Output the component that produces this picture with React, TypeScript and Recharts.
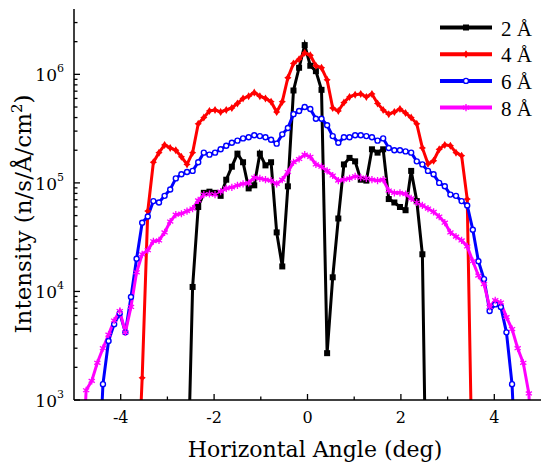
import React from "react";
import { LineChart, Line, XAxis, YAxis } from "recharts";

// horizontal angle (deg), ~0.12 deg steps
const angles = [
  -4.86, -4.74, -4.62, -4.5, -4.38, -4.26, -4.14, -4.02, -3.9, -3.78, -3.66, -3.54, -3.42, -3.3,
  -3.18, -3.06, -2.94, -2.82, -2.7, -2.58, -2.46, -2.34, -2.22, -2.1, -1.98, -1.86, -1.74, -1.62,
  -1.5, -1.38, -1.26, -1.14, -1.02, -0.9, -0.78, -0.66, -0.54, -0.42, -0.3, -0.18, -0.06, 0.06,
  0.18, 0.3, 0.42, 0.54, 0.66, 0.78, 0.9, 1.02, 1.14, 1.26, 1.38, 1.5, 1.62, 1.74, 1.86, 1.98,
  2.1, 2.22, 2.34, 2.46, 2.58, 2.7, 2.82, 2.94, 3.06, 3.18, 3.3, 3.42, 3.54, 3.66, 3.78, 3.9,
  4.02, 4.14, 4.26, 4.38, 4.5, 4.62, 4.74, 4.86,
];

const n = null;

// 2 Å
const w2 = [
  n, n, n, n, n, n, n, n, n, n, n, n, n, n,
  n, n, n, n, n, 100, 1.1e4, 6.0e4, 8.1e4, 8.3e4, 8.1e4, 7.6e4, 1.07e5, 1.41e5,
  1.86e5, 1.55e5, 8.9e4, 9.5e4, 1.86e5, 1.45e5, 1.55e5, 3.5e4, 1.7e4, 9.3e4, 7.1e5, 1.15e6, 1.86e6, 1.2e6,
  1.07e6, 7.2e5, 2.7e3, 1.35e4, 4.7e4, 1.48e5, 1.7e5, 1.58e5, 1.07e5, 1.05e5, 2.04e5, 1.9e5, 2.04e5, 7.1e4, 6.6e4, 6.0e4,
  5.6e4, 1.29e5, 6.8e4, 2.2e4, 10, n, n, n, n, n, n, n, n, n, n, n,
  n, n, n, n, n, n, n, n,
];

// 4 Å
const w4 = [
  n, n, n, n, n, n, n, n, n, n, 100, 1.6e3, 5.5e4, 1.55e5,
  1.9e5, 2.24e5, 2.1e5, 2.0e5, 1.74e5, 1.48e5, 1.9e5, 3.5e5, 4.0e5, 4.6e5, 4.7e5, 4.5e5, 4.7e5, 4.9e5,
  5.4e5, 6.0e5, 6.3e5, 6.8e5, 6.3e5, 6.0e5, 5.6e5, 4.5e5, 5.6e5, 9.3e5, 1.26e6, 1.38e6, 1.58e6, 1.5e6,
  1.2e6, 1.15e6, 8.9e5, 4.9e5, 4.6e5, 5.5e5, 6.2e5, 6.5e5, 6.6e5, 6.2e5, 6.6e5, 5.4e5, 4.7e5, 4.3e5, 4.5e5, 4.8e5,
  4.4e5, 4.0e5, 3.5e5, 2.1e5, 1.5e5, 1.6e5, 2.04e5, 2.24e5, 2.2e5, 1.9e5, 1.78e5, 7.1e4, 100, n, n, n,
  n, n, n, n, n, n, n, n,
];

// 6 Å
const w6 = [
  n, n, n, 100, 1.4e3, 3.5e3, 5.0e3, 6.3e3, 4.2e3, 8.9e3, 2.0e4, 4.3e4, 4.9e4, 6.8e4,
  6.6e4, 7.6e4, 8.7e4, 1.1e5, 1.2e5, 1.26e5, 1.29e5, 1.55e5, 1.9e5, 1.82e5, 1.9e5, 2.04e5, 2.2e5, 2.34e5,
  2.45e5, 2.57e5, 2.63e5, 2.75e5, 2.7e5, 2.63e5, 2.5e5, 2.3e5, 2.8e5, 3.2e5, 4.3e5, 4.6e5, 5.0e5, 4.8e5,
  3.9e5, 3.9e5, 3.4e5, 2.7e5, 2.34e5, 2.63e5, 2.63e5, 2.75e5, 2.75e5, 2.7e5, 2.63e5, 2.45e5, 2.57e5, 2.1e5, 2.0e5, 2.0e5,
  1.95e5, 1.9e5, 1.58e5, 1.48e5, 1.29e5, 1.2e5, 1.0e5, 9.3e4, 7.8e4, 7.6e4, 6.8e4, 6.2e4, 3.7e4, 1.9e4, 1.3e4, 6.6e3,
  7.6e3, 7.2e3, 4.2e3, 1.4e3, 100, n, n, n,
];

// 8 Å
const w8 = [
  100, 1.23e3, 1.5e3, 2.2e3, 3.0e3, 4.0e3, 5.4e3, 6.6e3, 4.2e3, 7.2e3, 1.5e4, 2.2e4, 2.4e4, 2.9e4,
  2.95e4, 3.5e4, 4.4e4, 5.1e4, 5.2e4, 5.5e4, 5.8e4, 6.9e4, 7.8e4, 7.9e4, 7.8e4, 8.3e4, 8.9e4, 9.1e4,
  9.5e4, 9.8e4, 1.0e5, 1.12e5, 1.1e5, 1.07e5, 1.05e5, 9.8e4, 1.07e5, 1.26e5, 1.55e5, 1.66e5, 1.82e5, 1.74e5,
  1.48e5, 1.41e5, 1.29e5, 1.17e5, 1.05e5, 1.07e5, 1.1e5, 1.15e5, 1.12e5, 1.1e5, 1.07e5, 1.05e5, 1.07e5, 8.5e4, 8.1e4, 8.1e4,
  7.9e4, 7.2e4, 6.6e4, 6.2e4, 5.8e4, 5.4e4, 4.9e4, 4.3e4, 3.5e4, 3.2e4, 2.95e4, 2.6e4, 1.9e4, 1.4e4, 1.17e4, 7.2e3,
  8.3e3, 7.9e3, 5.8e3, 4.5e3, 3.0e3, 2.2e3, 1.15e3, 100,
];

const xTicks = [-4, -3, -2, -1, 0, 1, 2, 3, 4];
const xTopTicks = [-3, -1, 1, 3];
const yTicks = [
  1e3, 2e3, 3e3, 4e3, 5e3, 6e3, 7e3, 8e3, 9e3,
  1e4, 2e4, 3e4, 4e4, 5e4, 6e4, 7e4, 8e4, 9e4,
  1e5, 2e5, 3e5, 4e5, 5e5, 6e5, 7e5, 8e5, 9e5,
  1e6, 2e6, 3e6,
];

const series = [
  { key: "w2", name: "2 Å", color: "#000000", marker: "square" },
  { key: "w4", name: "4 Å", color: "#ff0000", marker: "diamond" },
  { key: "w6", name: "6 Å", color: "#0000ff", marker: "circle" },
  { key: "w8", name: "8 Å", color: "#ff00ff", marker: "star" },
];

const data = angles.map((a, i) => ({ angle: a, w2: w2[i], w4: w4[i], w6: w6[i], w8: w8[i] }));

// DejaVu Serif is the serif face that renders reliably for the axis texts here
const AXIS_FONT = "DejaVu Serif";
const LEGEND_FONT = "Liberation Serif";

function Marker({ cx, cy, type, color }: any) {
  if (type === "square") return <rect x={cx - 3} y={cy - 3} width={6} height={6} fill={color} />;
  if (type === "diamond")
    return (
      <path
        d={`M${cx},${cy - 4}L${cx + 1.6},${cy - 1.4}L${cx + 3.6},${cy}L${cx + 1.6},${cy + 1.4}L${cx},${cy + 4}L${cx - 1.6},${cy + 1.4}L${cx - 3.6},${cy}L${cx - 1.6},${cy - 1.4}Z`}
        fill={color}
      />
    );
  if (type === "circle") return <circle cx={cx} cy={cy} r={2.5} fill="#fff" stroke={color} strokeWidth={1.4} />;
  return (
    <path
      d={`M${cx},${cy - 3.6}L${cx},${cy + 3.6}M${cx - 3.1},${cy - 1.8}L${cx + 3.1},${cy + 1.8}M${cx - 3.1},${cy + 1.8}L${cx + 3.1},${cy - 1.8}`}
      stroke={color}
      strokeWidth={1.3}
    />
  );
}

const makeDot = (type: string, color: string) => (p: any) => {
  const key = `${type}-${p.index}`;
  if (p.cx == null || p.cy == null || p.value == null) return <g key={key} />;
  return (
    <g key={key}>
      <Marker cx={p.cx} cy={p.cy} type={type} color={color} />
    </g>
  );
};

const XTick = ({ x, y, payload }: any) => {
  const v = payload.value;
  const major = v % 2 === 0;
  return (
    <g>
      <line x1={x} x2={x} y1={y} y2={y - (major ? 6 : 3.5)} stroke="#000" strokeWidth={1.3} />
      {major && (
        <text x={x} y={y + 23} textAnchor="middle" fontSize={16} fontFamily={AXIS_FONT} fill="#000">
          {v}
        </text>
      )}
    </g>
  );
};

const TopTick = ({ x, y }: any) => (
  <line x1={x} x2={x} y1={y} y2={y + 4} stroke="#000" strokeWidth={1.3} />
);

const YTick = ({ x, y, payload }: any) => {
  const v = payload.value;
  const lg = Math.log10(v);
  const exp = Math.round(lg);
  const major = Math.abs(lg - exp) < 1e-6;
  return (
    <g>
      <line x1={x} x2={x + (major ? 6 : 3.5)} y1={y} y2={y} stroke="#000" strokeWidth={1.3} />
      {major && (
        <text x={x - 10} y={y + 7} textAnchor="end" fontSize={17} fontFamily={AXIS_FONT} fill="#000">
          10
          <tspan dy={-9} fontSize={11}>
            {exp}
          </tspan>
        </text>
      )}
    </g>
  );
};

// axis titles and legend
const Overlay = () => (
  <svg
    width={550}
    height={470}
    style={{ position: "absolute", left: 0, top: 0, pointerEvents: "none" }}
  >
    <text x={315} y={457} textAnchor="middle" fontSize={22} fontFamily={AXIS_FONT} fill="#000">
      Horizontal Angle (deg)
    </text>
    <text
      transform="translate(31,214) rotate(-90)"
      textAnchor="middle"
      fontSize={23}
      fontFamily={AXIS_FONT}
      fill="#000"
    >
      Intensity (n/s/Å/cm
      <tspan dy={-9} fontSize={15}>
        2
      </tspan>
      <tspan dy={9}>)</tspan>
    </text>
    {series.map((s, i) => {
      const yy = 27.5 + i * 26.7;
      return (
        <g key={s.key}>
          <line x1={440} x2={492} y1={yy} y2={yy} stroke={s.color} strokeWidth={4} />
          <Marker cx={466} cy={yy} type={s.marker} color={s.color} />
          <text x={501} y={yy + 8} fontSize={21} fontFamily={LEGEND_FONT} fill="#000">
            {s.name}
          </text>
        </g>
      );
    })}
  </svg>
);

export default function App() {
  return (
    <div style={{ position: "absolute", left: 0, top: 0, width: 550, height: 470, background: "#fff" }}>
      <LineChart width={550} height={470} data={data} margin={{ top: 9, right: 9, bottom: 0, left: 0 }}>
        <XAxis
          dataKey="angle"
          type="number"
          domain={[-5, 5]}
          ticks={xTicks}
          interval={0}
          allowDataOverflow
          height={70}
          tickSize={0}
          tickMargin={0}
          tick={<XTick />}
          axisLine={{ stroke: "#000", strokeWidth: 1.5 }}
        />
        <XAxis
          xAxisId="top"
          orientation="top"
          type="number"
          dataKey="angle"
          domain={[-5, 5]}
          ticks={xTopTicks}
          interval={0}
          allowDataOverflow
          height={0}
          tickSize={0}
          tickMargin={0}
          tick={<TopTick />}
          axisLine={{ stroke: "#000", strokeWidth: 1.5 }}
        />
        <YAxis
          scale="log"
          domain={[1000, 4e6]}
          ticks={yTicks}
          interval={0}
          allowDataOverflow
          width={74}
          tickSize={0}
          tickMargin={0}
          tick={<YTick />}
          axisLine={{ stroke: "#000", strokeWidth: 1.5 }}
        />
        <YAxis
          yAxisId="right"
          orientation="right"
          scale="log"
          domain={[1000, 4e6]}
          allowDataOverflow
          width={0}
          tick={false}
          tickLine={false}
          axisLine={{ stroke: "#000", strokeWidth: 1.5 }}
        />
        {series.map((s) => (
          <Line
            key={s.key}
            type="linear"
            dataKey={s.key}
            name={s.name}
            stroke={s.color}
            strokeWidth={3}
            dot={makeDot(s.marker, s.color)}
            activeDot={false}
            isAnimationActive={false}
          />
        ))}
      </LineChart>
      <Overlay />
    </div>
  );
}
